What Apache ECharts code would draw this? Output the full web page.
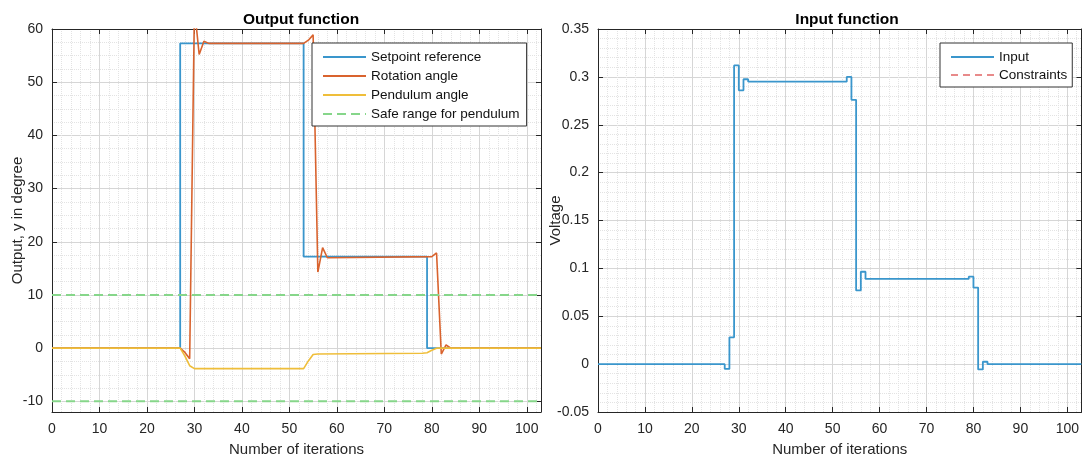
<!DOCTYPE html>
<html>
<head>
<meta charset="utf-8">
<script src="https://cdn.jsdelivr.net/npm/echarts@6/dist/echarts.min.js"></script>
<style>
  html, body { margin: 0; padding: 0; background: #fff; }
  #main { width: 1082px; height: 462px; }
</style>
</head>
<body>
<div id="main"></div>
<script>
// output function (degrees), sampled per iteration
var setpointIter = [0, 27, 53, 79, 103];
var setpointDeg  = [0, 57.3, 17.2, 0, 0];

var rotationIter = [0, 27, 28, 29, 30, 31, 32, 33, 53, 54, 55, 56, 57, 58, 80, 81, 82, 83, 84, 103];
var rotationDeg  = [0, 0, -0.8, -2.0, 64, 55.2, 57.7, 57.3, 57.3, 57.9, 58.9, 14.3, 18.9, 17.0, 17.2, 17.9, -1.1, 0.6, 0, 0];

var pendulumIter = [0, 27, 28, 29, 30, 53, 54, 55, 56, 78, 79, 80, 81, 103];
var pendulumDeg  = [0, 0, -1.5, -3.3, -3.85, -3.85, -2.4, -1.2, -1.1, -0.95, -0.85, -0.4, 0, 0];

var safeIter  = [0, 103];
var safeUpper = [10, 10];
var safeLower = [-10, -10];

// input function (voltage), stairs
var inputIter = [0, 27, 28, 29, 30, 31, 32, 53, 54, 55, 56, 57, 79, 80, 81, 82, 83, 103];
var inputVolt = [0, -0.005, 0.028, 0.312, 0.286, 0.2975, 0.295, 0.300, 0.276, 0.077, 0.0965, 0.089, 0.0913, 0.080, -0.0055, 0.0025, 0, 0];

var FONT = 'Liberation Sans, Arial, sans-serif';
var INK = '#262626';
var BLUE = '#3a96cc';
var ORANGE = '#d9632e';
var YELLOW = '#efbe3a';
var GREEN = '#86d68a';
var RED = '#e88a8a';

function pairs(xs, ys) {
    return xs.map(function (x, i) { return [x, ys[i]]; });
}

function makeX(grid, top) {
    return {
        type: 'value', gridIndex: grid, position: top ? 'top' : 'bottom',
        min: 0, max: 103, interval: 10,
        name: top ? '' : 'Number of iterations',
        nameLocation: 'middle', nameGap: 30, nameMoveOverlap: false,
        nameTextStyle: { fontFamily: FONT, fontSize: 15, color: INK },
        axisLine: { show: true, onZero: false, lineStyle: { color: INK, width: 1 } },
        axisTick: { show: true, inside: true, length: 5, lineStyle: { color: INK } },
        axisLabel: { show: !top, showMinLabel: true, showMaxLabel: false, margin: 10,
                     fontFamily: FONT, fontSize: 14, color: INK },
        splitLine: { show: !top, lineStyle: { color: '#d6d6d6' } },
        minorTick: { show: false, splitNumber: 5 },
        minorSplitLine: { show: !top, lineStyle: { color: '#e3e3e3', type: 'dotted' } }
    };
}

function makeY(grid, right, extra) {
    var ax = {
        type: 'value', gridIndex: grid, position: right ? 'right' : 'left',
        nameLocation: 'middle', nameMoveOverlap: false,
        nameTextStyle: { fontFamily: FONT, fontSize: 15, color: INK },
        axisLine: { show: true, onZero: false, lineStyle: { color: INK, width: 1 } },
        axisTick: { show: true, inside: true, length: 5, lineStyle: { color: INK } },
        axisLabel: { show: !right, showMinLabel: false, showMaxLabel: true, margin: 9,
                     fontFamily: FONT, fontSize: 14, color: INK },
        splitLine: { show: !right, lineStyle: { color: '#d6d6d6' } },
        minorTick: { show: false, splitNumber: 4 },
        minorSplitLine: { show: !right, lineStyle: { color: '#e3e3e3', type: 'dotted' } }
    };
    for (var k in extra) ax[k] = extra[k];
    return ax;
}

var myChart = echarts.init(document.getElementById('main'));

var leftY = { min: -12, max: 60, splitNumber: 7 };
var rightY = {
    min: -0.05, max: 0.35, interval: 0.05,
    minorTick: { show: false, splitNumber: 5 }
};

var yAxes = [
    makeY(0, false, Object.assign({ name: 'Output, y in degree', nameGap: 27 }, leftY)),
    makeY(0, true, leftY),
    makeY(1, false, Object.assign({ name: 'Voltage', nameGap: 35 }, rightY)),
    makeY(1, true, rightY)
];
yAxes[2].axisLabel.showMinLabel = true;
yAxes[2].axisLabel.formatter = function (v) { return String(+v.toFixed(2)); };

var legendBase = {
    orient: 'vertical', top: 43,
    itemWidth: 43, itemHeight: 14,
    borderColor: '#333', borderWidth: 1, borderRadius: 0, backgroundColor: '#fff',
    selectedMode: false,
    itemStyle: { opacity: 0 },
    textStyle: { fontFamily: FONT, fontSize: 13.5, color: '#111' }
};

var titleStyle = { fontFamily: FONT, fontSize: 15.5, fontWeight: 'bold', color: '#000' };

var option = {
    animation: false,
    backgroundColor: '#fff',
    title: [
        { text: 'Output function', left: 296, top: 7, textAlign: 'center', textStyle: titleStyle },
        { text: 'Input function', left: 842, top: 7, textAlign: 'center', textStyle: titleStyle }
    ],
    legend: [
        Object.assign({}, legendBase, {
            data: ['Setpoint reference', 'Rotation angle', 'Pendulum angle', 'Safe range for pendulum'],
            left: 312, padding: [7, 7, 5, 10], itemGap: 5
        }),
        Object.assign({}, legendBase, {
            data: ['Input', 'Constraints'],
            left: 940, padding: [7, 5, 5, 10], itemGap: 4
        })
    ],
    grid: [
        { left: 52, top: 29, width: 489, height: 384 },
        { left: 598, top: 29, width: 489, height: 384 }
    ],
    xAxis: [makeX(0, false), makeX(0, true), makeX(1, false), makeX(1, true)],
    yAxis: yAxes,
    series: [
        {
            name: 'Setpoint reference', type: 'line', xAxisIndex: 0, yAxisIndex: 0,
            step: 'end', symbol: 'none', data: pairs(setpointIter, setpointDeg),
            lineStyle: { color: BLUE, width: 1.8 }, itemStyle: { color: BLUE }
        },
        {
            name: 'Rotation angle', type: 'line', xAxisIndex: 0, yAxisIndex: 0,
            symbol: 'none', data: pairs(rotationIter, rotationDeg),
            lineStyle: { color: ORANGE, width: 1.6 }, itemStyle: { color: ORANGE }
        },
        {
            name: 'Pendulum angle', type: 'line', xAxisIndex: 0, yAxisIndex: 0,
            symbol: 'none', data: pairs(pendulumIter, pendulumDeg),
            lineStyle: { color: YELLOW, width: 1.6 }, itemStyle: { color: YELLOW }
        },
        {
            name: 'Safe range for pendulum', type: 'line', xAxisIndex: 0, yAxisIndex: 0,
            symbol: 'none', data: pairs(safeIter, safeUpper),
            lineStyle: { color: GREEN, width: 2, type: [9, 5] }, itemStyle: { color: GREEN }
        },
        {
            name: 'Safe range for pendulum', type: 'line', xAxisIndex: 0, yAxisIndex: 0,
            symbol: 'none', data: pairs(safeIter, safeLower),
            lineStyle: { color: GREEN, width: 2, type: [9, 5] }, itemStyle: { color: GREEN }
        },
        {
            name: 'Input', type: 'line', xAxisIndex: 2, yAxisIndex: 2,
            step: 'end', symbol: 'none', data: pairs(inputIter, inputVolt),
            lineStyle: { color: BLUE, width: 1.8 }, itemStyle: { color: BLUE }
        },
        {
            name: 'Constraints', type: 'line', xAxisIndex: 2, yAxisIndex: 2,
            symbol: 'none', data: [],
            lineStyle: { color: RED, width: 1.5, type: [7, 5] }, itemStyle: { color: RED }
        }
    ]
};

myChart.setOption(option);
</script>
</body>
</html>
